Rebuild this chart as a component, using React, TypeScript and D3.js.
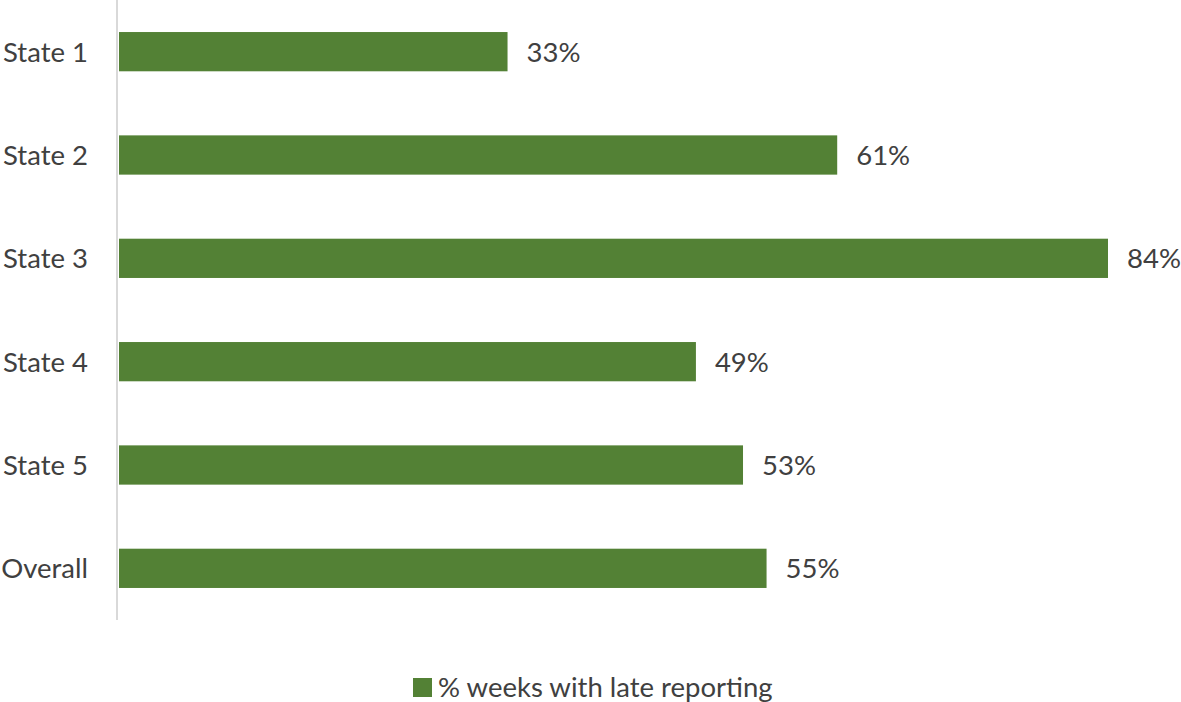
import React from "react";
import * as d3 from "d3";

const categories = ["State 1", "State 2", "State 3", "State 4", "State 5", "Overall"];
const values = [33, 61, 84, 49, 53, 55];
const seriesName = "% weeks with late reporting";

const W = 1181;
const H = 702;
const FONT = "Lato, 'Open Sans', sans-serif";
const BAR = "#538135";
const TEXT = "#404040";
const FS = 27.5;

export default function App() {
  const x = d3.scaleLinear().domain([0, 84]).range([119, 1108]);
  const y = d3.scaleBand<string>().domain(categories).range([0, 620]).paddingInner(0.62).paddingOuter(0.31);
  return (
    <svg width={W} height={H} style={{ position: "absolute", left: 0, top: 0, background: "#fff" }}>
      <line x1={117} x2={117} y1={0} y2={620} stroke="#d9d9d9" strokeWidth={2} />
      {categories.map((c, i) => {
        const yy = y(c)!;
        const bw = y.bandwidth();
        return (
          <g key={c}>
            <rect x={x(0)} y={yy} width={x(values[i]) - x(0)} height={bw} fill={BAR} />
            <text x={88} y={yy + bw / 2} dy="0.36em" textAnchor="end" fontFamily={FONT} fontSize={FS} fill={TEXT}>{c}</text>
            <text x={x(values[i]) + 19} y={yy + bw / 2} dy="0.36em" fontFamily={FONT} fontSize={FS} fill={TEXT}>{values[i]}%</text>
          </g>
        );
      })}
      <rect x={413} y={678} width={19} height={19} fill={BAR} />
      <text x={438} y={687.5} dy="0.36em" fontFamily={FONT} fontSize={FS} fill={TEXT}>{seriesName}</text>
    </svg>
  );
}
